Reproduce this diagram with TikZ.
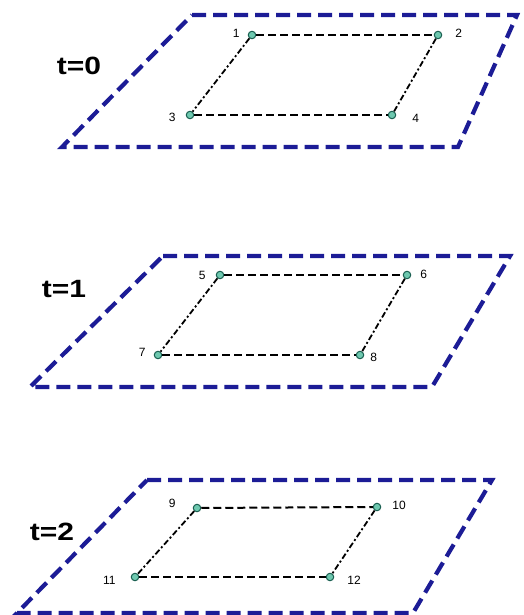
\documentclass[tikz,border=0pt]{standalone}
\usepackage{fontspec}
\setmainfont{Liberation Sans}
\usetikzlibrary{positioning}
\definecolor{planeblue}{RGB}{28,28,150}
\definecolor{ptfill}{RGB}{110,200,175}
\definecolor{ptdraw}{RGB}{25,95,80}

\begin{document}
\begin{tikzpicture}[x=1pt, y=-1pt,
      plane/.style={draw=planeblue, line width=4.2pt, dash pattern=on 14pt off 7pt},
      hedge/.style={draw=black, line width=2pt, dash pattern=on 8pt off 4pt},
      sedge/.style={draw=black, line width=1.8pt, dash pattern=on 6pt off 2.5pt on 2pt off 2.5pt},
      pt/.style={circle, draw=ptdraw, fill=ptfill, line width=1pt, minimum size=7.5pt, inner sep=0pt},
      num/.style={font=\fontsize{12}{12}\selectfont, inner sep=0pt},
      tlab/.style={font=\fontsize{25}{25}\selectfont\bfseries, inner sep=0pt}]
    \useasboundingbox (0,0) rectangle (523,615);
    % planes
    \draw[plane] (192,15) -- (517,15) -- (458,147) -- (62,147) -- cycle;
    \draw[plane] (163,256) -- (510,256) -- (432,387) -- (30,387) -- cycle;
    \draw[plane] (147,480) -- (492,480) -- (413,613) -- (17,613) -- cycle;
    % time labels
    \node[tlab] (t0) at (79,66)  {\scalebox{1.2}[1]{t=0}};
    \node[tlab] (t1) at (64,289) {\scalebox{1.2}[1]{t=1}};
    \node[tlab] (t2) at (52,532) {\scalebox{1.2}[1]{t=2}};
    % t=0
    \node[pt] (p1) at (252,35)  {};
    \node[pt] (p2) at (438,35)  {};
    \node[pt] (p3) at (190,115) {};
    \node[pt] (p4) at (392,115) {};
    \node[num, left=8pt of p1, yshift=2pt]    (l1) {1};
    \node[num, right=13pt of p2, yshift=2pt]  (l2) {2};
    \node[num, left=10pt of p3, yshift=-2pt]  (l3) {3};
    \node[num, right=16pt of p4, yshift=-3pt] (l4) {4};
    \draw[hedge] (p1) -- (p2);
    \draw[hedge] (p3) -- (p4);
    \draw[sedge] (p1) -- (p3);
    \draw[sedge] (p2) -- (p4);
    % t=1
    \node[pt] (p5) at (220,275) {};
    \node[pt] (p6) at (407,275) {};
    \node[pt] (p7) at (158,355) {};
    \node[pt] (p8) at (360,355) {};
    \node[num, left=10pt of p5]               (l5) {5};
    \node[num, right=9pt of p6, yshift=1pt]   (l6) {6};
    \node[num, left=8pt of p7, yshift=3pt]    (l7) {7};
    \node[num, right=6pt of p8, yshift=-2pt]  (l8) {8};
    \draw[hedge] (p5) -- (p6);
    \draw[hedge] (p7) -- (p8);
    \draw[sedge] (p5) -- (p7);
    \draw[sedge] (p6) -- (p8);
    % t=2
    \node[pt] (p9)  at (197,508) {};
    \node[pt] (p10) at (377,507) {};
    \node[pt] (p11) at (135,577) {};
    \node[pt] (p12) at (330,577) {};
    \node[num, left=17pt of p9, yshift=5pt]    (l9)  {9};
    \node[num, right=11pt of p10, yshift=2pt]  (l10) {10};
    \node[num, left=15pt of p11, yshift=-3pt]  (l11) {11};
    \node[num, right=13pt of p12, yshift=-3pt] (l12) {12};
    \draw[hedge] (p9) -- (p10);
    \draw[hedge] (p11) -- (p12);
    \draw[sedge] (p9) -- (p11);
    \draw[sedge] (p10) -- (p12);
\end{tikzpicture}
\end{document}
